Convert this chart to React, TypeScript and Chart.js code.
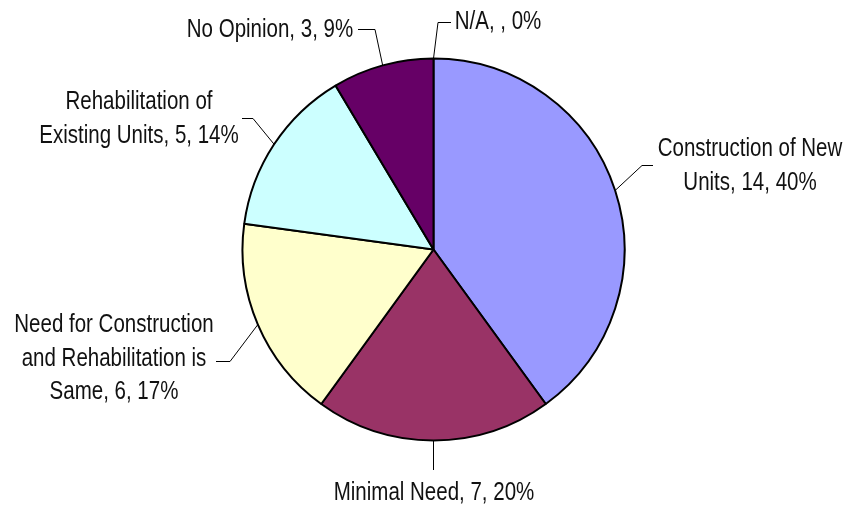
import React, { useEffect, useRef } from "react";
import { Chart, registerables } from "chart.js";

Chart.register(...registerables);

const categories = [
  "Construction of New Units",
  "Minimal Need",
  "Need for Construction and Rehabilitation is Same",
  "Rehabilitation of Existing Units",
  "No Opinion",
  "N/A",
];
const values: (number | null)[] = [14, 7, 6, 5, 3, null];
const colors = ["#9999FF", "#993366", "#FFFFCC", "#CCFFFF", "#660066", "#FF8080"];

// label layout: wrapped lines use "{v}" and "{p}" placeholders
const labelLines = [
  ["Construction of New", "Units, {v}, {p}"],
  ["Minimal Need, {v}, {p}"],
  ["Need for Construction", "and Rehabilitation is", "Same, {v}, {p}"],
  ["Rehabilitation of", "Existing Units, {v}, {p}"],
  ["No Opinion, {v}, {p}"],
  ["N/A, {v}, {p}"],
];
// text center x, first baseline y, elbow point, leader end point
const labelLayout = [
  { cx: 750, by: 156, elbow: [642, 165.5], end: [653, 165.5] },
  { cx: 434, by: 500, elbow: [433.5, 470], end: [433.5, 470] },
  { cx: 114, by: 332, elbow: [230, 361.5], end: [216, 361.5] },
  { cx: 139, by: 109, elbow: [253, 118.5], end: [242, 118.5] },
  { cx: 270, by: 37, elbow: [375, 29.5], end: [358, 29.5] },
  { cx: 498, by: 29, elbow: [438, 22.5], end: [451, 22.5] },
];
const LINE_H = 33.5;
const FONT = "25px 'Liberation Sans', Arial, sans-serif";
const SCALE_X = 0.82;

const labelPlugin = {
  id: "pieLabels",
  afterDraw(chart: any) {
    const ctx = chart.ctx;
    const meta = chart.getDatasetMeta(0);
    const total = values.reduce((a: number, b) => a + (b ?? 0), 0);
    ctx.save();
    meta.data.forEach((el: any, i: number) => {
      const lay = labelLayout[i];
      const mid = (el.startAngle + el.endAngle) / 2;
      const r = el.outerRadius;
      const ax = el.x + Math.cos(mid) * r;
      const ay = el.y + Math.sin(mid) * r;
      ctx.strokeStyle = "#000";
      ctx.lineWidth = 1;
      ctx.beginPath();
      ctx.moveTo(ax, ay);
      ctx.lineTo(lay.elbow[0], lay.elbow[1]);
      ctx.lineTo(lay.end[0], lay.end[1]);
      ctx.stroke();
      const v = values[i];
      const pct = Math.round(((v ?? 0) / total) * 100) + "%";
      ctx.fillStyle = "#111";
      ctx.font = FONT;
      ctx.textAlign = "center";
      ctx.textBaseline = "alphabetic";
      labelLines[i].forEach((ln, k) => {
        const txt = ln.replace("{v}", v == null ? "" : String(v)).replace("{p}", pct);
        ctx.save();
        ctx.translate(lay.cx, lay.by + k * LINE_H);
        ctx.scale(SCALE_X, 1);
        ctx.fillText(txt, 0, 0);
        ctx.restore();
      });
    });
    ctx.restore();
  },
};

export default function App() {
  const ref = useRef<HTMLCanvasElement>(null);
  useEffect(() => {
    if (!ref.current) return;
    const chart = new Chart(ref.current, {
      type: "pie",
      data: {
        labels: categories,
        datasets: [
          {
            data: values.map((v) => v ?? 0),
            backgroundColor: colors,
            borderColor: "#000",
            borderWidth: 2,
            hoverOffset: 0,
          },
        ],
      },
      options: {
        responsive: false,
        animation: false,
        radius: 191,
        layout: { padding: { left: 20, right: 0, top: 0, bottom: 6 } },
        plugins: {
          legend: { display: false },
          tooltip: { enabled: false },
        },
      } as any,
      plugins: [labelPlugin],
    });
    return () => chart.destroy();
  }, []);
  return (
    <div style={{ position: "fixed", left: 0, top: 0, width: 847, height: 505, background: "#fff" }}>
      <canvas ref={ref} width={847} height={505} style={{ display: "block" }} />
    </div>
  );
}
